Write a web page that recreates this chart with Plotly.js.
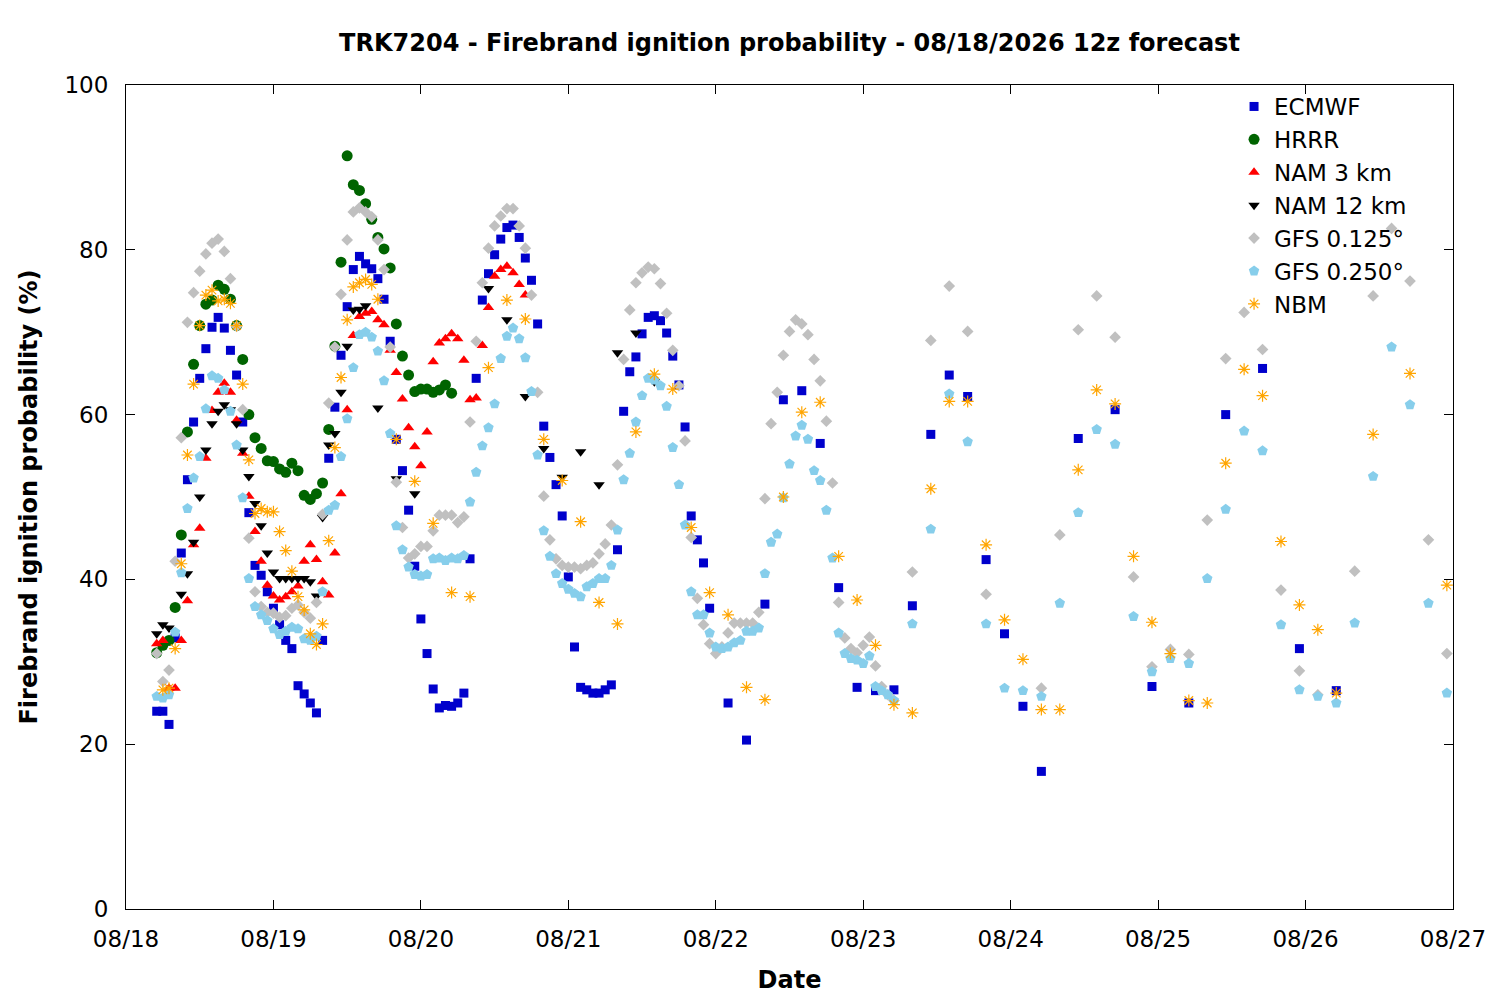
<!DOCTYPE html>
<html>
<head>
<meta charset="utf-8">
<script src="https://cdn.plot.ly/plotly-3.0.1.min.js"></script>
<style>
  html, body { margin: 0; padding: 0; background: white; }
  #chart { width: 1500px; height: 1000px; }
</style>
</head>
<body>
<div id="chart"></div>
<script>
// hours are counted from 08/18 00:00, values are ignition probability (%)

// ECMWF: hourly from hour 5 to 95, then 3-hourly / 6-hourly
const ecmwfHourly = [
	24.0, 24.0, 22.4, 32.9, 43.2, 52.1, 59.1, 64.4, 68.0, 70.6,
	71.8, 70.5, 67.8, 64.8, 59.1, 48.1, 41.7, 40.5, 38.5, 36.5,
	34.5, 32.6, 31.6, 27.1, 26.1, 25.0, 23.8, 32.6, 54.7, 60.9,
	67.2, 73.1, 77.6, 79.2, 78.3, 77.7, 76.5, 74.0, 68.9, 57.0,
	53.2, 48.4, 41.6, 35.2, 31.0, 26.7, 24.4, 24.7, 24.6, 25.0,
	26.2, 42.5, 64.4, 73.9, 77.1, 79.4, 81.3, 82.7, 83.0, 81.5,
	79.0, 76.3, 71.0, 58.6, 54.8, 51.5, 47.7, 40.3, 31.8, 26.9,
	26.6, 26.2, 26.2, 26.6, 27.2, 43.6, 60.4, 65.2, 67.0, 69.8,
	71.8, 72.0, 71.4, 69.9, 67.1, 63.6, 58.5, 47.7, 44.8, 42.0,
	36.5
]
const ecmwfLateHours = [98, 101, 104, 107, 110, 113, 116, 119, 122, 125, 128, 131, 134, 137, 140, 143, 146, 149, 155, 161, 167, 173, 179, 185, 191, 197]
const ecmwfLate = [25.0, 20.5, 37.0, 61.8, 62.9, 56.5, 39.0, 26.9, 26.5, 26.6, 36.8, 57.6, 64.8, 62.2, 42.4, 33.4, 24.6, 16.7, 57.1, 60.6, 27.0, 25.0, 60.0, 65.6, 31.6, 26.5]

// HRRR: hourly from hour 5 to 53
const hrrrHourly = [
	31.1, 32.0, 32.6, 36.6, 45.4, 57.9, 66.1, 70.8, 73.4, 73.9,
	75.7, 75.2, 74.0, 70.8, 66.7, 60.0, 57.2, 55.9, 54.4, 54.3,
	53.4, 53.0, 54.1, 53.2, 50.2, 49.7, 50.4, 51.7, 58.2, 68.3,
	78.5, 91.4, 87.9, 87.2, 85.6, 83.7, 81.5, 80.1, 77.8, 71.0,
	67.1, 64.8, 62.8, 63.1, 63.1, 62.7, 63.0, 63.6, 62.6
]

// NAM 3 km: hourly from hour 5 to 65
const nam3Hourly = [
	32.2, 32.6, 26.8, 26.8, 32.6, 37.4, 44.2, 46.2, 54.7, 60.5,
	62.7, 63.8, 62.7, 59.3, 55.3, 50.1, 45.8, 42.2, 39.3, 38.0,
	37.5, 37.9, 38.5, 39.2, 42.2, 44.2, 42.4, 39.7, 38.1, 43.2,
	50.4, 60.6, 69.6, 71.9, 72.3, 72.5, 71.5, 70.9, 67.8, 65.1,
	61.9, 58.4, 56.1, 53.8, 57.9, 66.4, 68.7, 69.2, 69.8, 69.2,
	66.6, 61.8, 62.0, 68.4, 73.0, 76.8, 77.6, 78.0, 77.2, 75.8,
	74.5
]

// NAM 12 km: hourly from hour 5 to 39, then 3-hourly
const nam12Hourly = [
	33.4, 34.5, 34.1, null, 38.2, 40.7, 44.5, 50.0, 55.7, 58.9,
	60.4, 61.2, 60.6, 58.9, 55.7, 52.5, 49.2, 46.5, 43.2, 40.9,
	40.1, 40.1, 40.1, 40.1, 40.1, 39.7, 38.0, 47.5, 56.3, 57.7,
	62.7, 68.3, 72.7, 72.8, 73.2
]
const nam12LateHours = [41, 44, 47, 59, 62, 65, 68, 71, 74, 77, 80, 83, 86]
const nam12Late = [60.8, 52.2, 50.4, 75.3, 71.5, 62.2, 55.9, 52.4, 55.5, 51.5, 67.5, 69.9, 64.0]

// GFS 0.125: hourly from hour 5 to 125, then 3-hourly
const gfs125Hourly = [
	31.0, 27.6, 29.0, 42.2, 57.2, 71.2, 74.8, 77.4, 79.5, 80.8,
	81.3, 79.8, 76.5, 70.7, 60.6, 45.0, 38.5, 36.7, 36.0, 35.9,
	35.4, 35.6, 36.5, 36.9, 36.0, 35.3, 37.2, 47.9, 61.4, 68.2,
	74.6, 81.2, 84.6, 85.1, 84.6, 84.0, 81.2, 77.6, 68.2, 51.8,
	46.3, 42.6, 43.1, 44.0, 44.0, 45.9, 47.8, 47.8, 47.8, 46.9,
	47.6, 59.1, 68.9, 76.0, 80.2, 82.9, 84.1, 85.0, 85.0, 82.9,
	80.2, 74.5, 62.7, 50.1, 44.8, 42.5, 41.7, 41.5, 41.5, 41.3,
	41.7, 42.0, 43.1, 44.3, 46.6, 53.9, 66.7, 72.7, 76.0, 77.2,
	77.9, 77.7, 75.9, 72.3, 67.8, 63.5, 56.8, 45.1, 37.7, 34.5,
	32.2, 31.0, 31.8, 33.5, 34.7, 34.7, 34.7, 34.7, 36.0, 49.8,
	58.9, 62.7, 67.2, 70.1, 71.5, 71.0, 69.7, 66.7, 64.1, 59.2,
	51.7, 37.2, 32.9, 31.6, 31.1, 32.0, 33.0, 29.5, 27.0, 26.0,
	25.3
]
const gfs125LateHours = [128, 131, 134, 137, 140, 149, 152, 155, 158, 161, 164, 167, 170, 173, 176, 179, 182, 185, 188, 191, 194, 200, 203, 206, 209, 212, 215]
const gfs125Late = [40.9, 69.0, 75.6, 70.1, 38.2, 26.8, 45.4, 70.3, 74.4, 69.4, 40.3, 29.4, 31.5, 30.9, 47.2, 66.8, 72.4, 67.9, 38.7, 28.9, 26.0, 41.0, 74.4, 82.6, 76.2, 44.8, 31.0]

// GFS 0.250: hourly from hour 5 to 125, then 3-hourly
const gfs250Hourly = [
	25.8, 25.6, 26.0, 33.6, 40.8, 48.6, 52.3, 54.9, 60.7, 64.7,
	64.4, 63.0, 60.4, 56.3, 49.9, 40.1, 36.7, 35.7, 35.0, 34.0,
	33.3, 33.7, 34.2, 34.0, 32.8, 32.6, 33.1, 38.5, 48.4, 49.0,
	54.9, 59.5, 65.7, 69.7, 70.0, 69.4, 67.7, 64.1, 57.7, 46.5,
	43.6, 41.5, 40.6, 40.4, 40.6, 42.5, 42.6, 42.3, 42.6, 42.5,
	42.9, 49.4, 53.0, 56.2, 58.4, 61.3, 66.8, 69.5, 70.5, 69.2,
	66.9, 62.8, 55.1, 45.9, 42.8, 40.7, 39.5, 38.8, 38.3, 37.9,
	39.1, 39.5, 40.1, 40.1, 41.7, 46.0, 52.1, 55.3, 59.1, 62.3,
	64.4, 64.2, 63.5, 61.0, 56.0, 51.5, 46.6, 38.5, 35.7, 35.7,
	33.5, 31.8, 31.6, 31.8, 32.3, 32.6, 33.7, 33.7, 34.1, 40.7,
	44.5, 45.5, 49.9, 54.0, 57.4, 58.7, 57.0, 53.2, 52.0, 48.4,
	42.6, 33.5, 31.0, 30.4, 30.2, 29.8, 30.7, 27.0, 26.5, 26.0,
	25.3
]
const gfs250LateHours = [128, 131, 134, 137, 140, 143, 146, 149, 152, 155, 158, 161, 164, 167, 170, 173, 176, 179, 182, 185, 188, 191, 194, 197, 200, 203, 206, 209, 212, 215]
const gfs250Late = [34.6, 46.1, 62.5, 56.7, 34.6, 26.8, 26.5, 25.8, 37.1, 48.1, 58.2, 56.4, 35.5, 28.8, 30.4, 29.8, 40.1, 48.5, 58.0, 55.6, 34.5, 26.6, 25.8, 25.0, 34.7, 52.5, 68.2, 61.2, 37.1, 26.2]

// NBM: hourly from hour 6 to 41, then 3-hourly
const nbmHourly = [
	26.6, 26.8, 31.6, 41.9, 55.1, 63.7, 70.8, 74.5, 75.1, 73.8,
	74.0, 73.5, 70.8, 63.7, 54.5, 48.0, 48.6, 48.2, 48.2, 45.8,
	43.5, 41.0, 37.9, 36.3, 33.4, 32.1, 34.6, 44.7, 56.0, 64.5,
	71.5, 75.5, 76.0, 76.4, 75.8, 74.0
]
const nbmLateHours = [
	44, 47, 50, 53, 56, 59, 62, 65, 68, 71, 74, 77, 80, 83, 86, 89, 92, 95, 98, 101,
	104, 107, 110, 113, 116, 119, 122, 125, 128, 131, 134, 137, 140, 143, 146, 149, 152, 155, 158, 161,
	164, 167, 170, 173, 176, 179, 182, 185, 188, 191, 194, 197, 203, 209, 215
]
const nbmLate = [
	57.0, 51.9, 46.8, 38.4, 37.9, 65.7, 73.9, 71.6, 57.0, 52.0, 47.0, 37.2, 34.6, 57.9, 64.9, 63.1, 46.3, 38.4, 35.7, 26.9,
	25.4, 50.0, 60.3, 61.5, 42.8, 37.5, 32.0, 24.8, 23.8, 51.0, 61.6, 61.6, 44.2, 35.1, 30.3, 24.2, 24.2, 53.3, 63.0, 61.3,
	42.8, 34.8, 31.0, 25.3, 25.0, 54.1, 65.5, 62.3, 44.6, 36.9, 33.9, 26.2, 57.6, 65.0, 39.3
]

const T0 = Date.UTC(2026, 7, 18)

function stamp(h) {
	const d = new Date(T0 + h * 3600000)
	const p = n => String(n).padStart(2, "0")
	return d.getUTCFullYear() + "-" + p(d.getUTCMonth() + 1) + "-" + p(d.getUTCDate()) + " " + p(d.getUTCHours()) + ":00"
}

function hourly(start, vals) {
	return Array.from(vals, (_, i) => stamp(start + i))
}

function series(name, start, vals, lateHours, lateVals, marker) {
	return {
		name: name,
		type: "scatter",
		mode: "markers",
		x: hourly(start, vals).concat(lateHours.map(stamp)),
		y: vals.concat(lateVals),
		marker: marker,
		cliponaxis: true
	}
}

const FONT = "DejaVu Sans, Liberation Sans, sans-serif"

var data = [
	series("ECMWF", 5, ecmwfHourly, ecmwfLateHours, ecmwfLate,
		{ symbol: "square", size: 9, color: "#0000cc", line: { width: 0 } }),
	series("HRRR", 5, hrrrHourly, [], [],
		{ symbol: "circle", size: 11, color: "#006400", line: { width: 0 } }),
	series("NAM 3 km", 5, nam3Hourly, [], [],
		{ symbol: "triangle-up", size: 10, color: "#ff0000", line: { width: 0 } }),
	series("NAM 12 km", 5, nam12Hourly, nam12LateHours, nam12Late,
		{ symbol: "triangle-down", size: 10, color: "#000000", line: { width: 0 } }),
	series("GFS 0.125°", 5, gfs125Hourly, gfs125LateHours, gfs125Late,
		{ symbol: "diamond", size: 9, color: "#c0c0c0", line: { width: 0 } }),
	series("GFS 0.250°", 5, gfs250Hourly, gfs250LateHours, gfs250Late,
		{ symbol: "pentagon", size: 11, color: "#87ceeb", line: { width: 0 } }),
	series("NBM", 6, nbmHourly, nbmLateHours, nbmLate,
		{ symbol: "asterisk-open", size: 10, color: "#ffa500", line: { width: 1.2, color: "#ffa500" } })
]

var axisStyle = {
	showline: true,
	linecolor: "black",
	linewidth: 1,
	mirror: "ticks",
	ticks: "inside",
	ticklen: 9,
	tickwidth: 1,
	tickcolor: "black",
	showgrid: false,
	zeroline: false,
	tickfont: { family: FONT, size: 23, color: "black" }
}

var layout = {
	width: 1500,
	height: 1000,
	margin: { l: 126, r: 47, t: 85, b: 91, pad: 0 },
	paper_bgcolor: "white",
	plot_bgcolor: "white",
	showlegend: true,
	title: {
		text: "TRK7204 - Firebrand ignition probability - 08/18/2026 12z forecast",
		font: { family: FONT, size: 24, color: "black", weight: "bold" },
		x: 0.5,
		xref: "paper",
		y: 0.957,
		yanchor: "middle"
	},
	xaxis: Object.assign({}, axisStyle, {
		type: "date",
		range: ["2026-08-18 00:00", "2026-08-27 00:00"],
		tick0: "2026-08-18",
		dtick: 86400000,
		tickformat: "%m/%d",
		ticklabelstandoff: 9,
		title: { text: "Date", font: { family: FONT, size: 24, color: "black", weight: "bold" }, standoff: 20 }
	}),
	yaxis: Object.assign({}, axisStyle, {
		range: [0, 100],
		dtick: 20,
		ticklabelstandoff: 12,
		title: { text: "Firebrand ignition probability (%)", font: { family: FONT, size: 24, color: "black", weight: "bold" }, standoff: 20 }
	}),
	legend: {
		x: 0.835,
		xanchor: "left",
		y: 1.0,
		yanchor: "top",
		bgcolor: "rgba(0,0,0,0)",
		borderwidth: 0,
		font: { family: FONT, size: 23, color: "black" },
		itemsizing: "trace"
	},
	hovermode: false
}

var config = {
	displayModeBar: false,
	staticPlot: true
}

Plotly.newPlot("chart", data, layout, config)
</script>
</body>
</html>
